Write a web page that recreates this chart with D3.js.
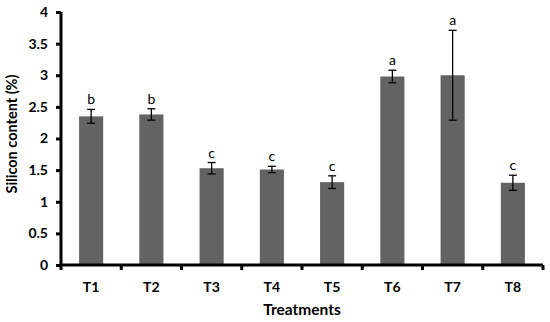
<html>
<head>
<script src="https://cdn.jsdelivr.net/npm/d3@7"></script>
<style>
  body { margin: 0; background: #fff; }
  text { font-family: Lato, "Open Sans", sans-serif; }
</style>
</head>
<body>
<svg id="chart" width="550" height="322"></svg>
<script>
var treatments = ["T1", "T2", "T3", "T4", "T5", "T6", "T7", "T8"];
var silicon = [2.35, 2.38, 1.53, 1.51, 1.31, 2.98, 3.0, 1.30];
var errors = [0.11, 0.09, 0.09, 0.05, 0.10, 0.10, 0.71, 0.12];
var letters = ["b", "b", "c", "c", "c", "a", "a", "c"];
var yTicks = [0, 0.5, 1, 1.5, 2, 2.5, 3, 3.5, 4];

var svg = d3.select("#chart");
var plotLeft = 61, plotRight = 543, plotTop = 12, plotBottom = 265;

var x = d3.scaleBand().domain(treatments).range([plotLeft, plotRight]).padding(0);
var y = d3.scaleLinear().domain([0, 4]).range([plotBottom, plotTop]);
var barW = x.bandwidth() * 0.4;

// bars
svg.append("g").selectAll("rect")
  .data(treatments)
  .enter().append("rect")
    .attr("x", function(d) { return x(d) + (x.bandwidth() - barW) / 2; })
    .attr("y", function(d, i) { return y(silicon[i]); })
    .attr("width", barW)
    .attr("height", function(d, i) { return y(0) - y(silicon[i]); })
    .attr("fill", "#636363");

// error bars
var eb = svg.append("g").attr("stroke", "#000").attr("stroke-width", 1.3);
treatments.forEach(function(d, i) {
  var cx = x(d) + x.bandwidth() / 2;
  var hi = y(silicon[i] + errors[i]), lo = y(silicon[i] - errors[i]);
  eb.append("line").attr("x1", cx).attr("x2", cx).attr("y1", hi).attr("y2", lo);
  eb.append("line").attr("x1", cx - 4).attr("x2", cx + 4).attr("y1", hi).attr("y2", hi);
  eb.append("line").attr("x1", cx - 4).attr("x2", cx + 4).attr("y1", lo).attr("y2", lo);
  svg.append("text")
    .attr("x", cx).attr("y", hi - 5)
    .attr("text-anchor", "middle")
    .attr("font-size", 14)
    .text(letters[i]);
});

// y axis
var yAxis = svg.append("g")
  .attr("transform", "translate(" + plotLeft + ",0)")
  .call(d3.axisLeft(y).tickValues(yTicks).tickSize(5).tickPadding(8).tickFormat(d3.format("")));
yAxis.select(".domain").attr("stroke-width", 3).attr("d", "M0," + (plotBottom + 1.5) + "V" + plotTop);
yAxis.selectAll(".tick line").attr("stroke-width", 3);
yAxis.selectAll("text").attr("font-size", 14).attr("font-weight", "bold").attr("fill", "#000");

// x axis
var xAxis = svg.append("g").attr("transform", "translate(0," + plotBottom + ")");
xAxis.append("line")
  .attr("x1", plotLeft - 1.5).attr("x2", plotRight).attr("y1", 0).attr("y2", 0)
  .attr("stroke", "#000").attr("stroke-width", 3);
xAxis.selectAll(".xt")
  .data(treatments.concat(["end"]))
  .enter().append("line")
    .attr("x1", function(d, i) { return plotLeft + i * x.step(); })
    .attr("x2", function(d, i) { return plotLeft + i * x.step(); })
    .attr("y1", 0).attr("y2", 5)
    .attr("stroke", "#000").attr("stroke-width", 3);
xAxis.selectAll(".xl")
  .data(treatments)
  .enter().append("text")
    .attr("x", function(d) { return x(d) + x.bandwidth() / 2; })
    .attr("y", 27)
    .attr("text-anchor", "middle")
    .attr("font-size", 14).attr("font-weight", "bold")
    .text(function(d) { return d; });

// axis titles
svg.append("text")
  .attr("x", 302).attr("y", 315)
  .attr("text-anchor", "middle")
  .attr("font-size", 15.5).attr("font-weight", "bold")
  .text("Treatments");
svg.append("text")
  .attr("transform", "translate(17,134) rotate(-90)")
  .attr("text-anchor", "middle")
  .attr("font-size", 14.5).attr("font-weight", "bold")
  .text("Silicon content (%)");
</script>
</body>
</html>
